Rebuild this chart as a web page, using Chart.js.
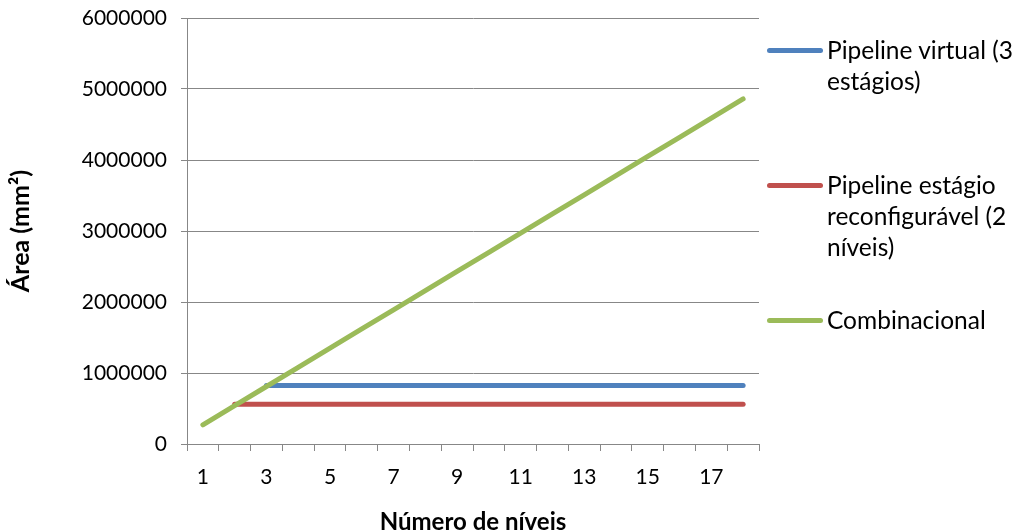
<!DOCTYPE html>
<html>
<head>
<meta charset="utf-8">
<script src="https://cdn.jsdelivr.net/npm/chart.js@4/dist/chart.umd.min.js"></script>
<style>
  html, body { margin: 0; padding: 0; background: #ffffff; }
  #wrap { position: relative; width: 1019px; height: 531px; overflow: hidden; }
  #chart { position: absolute; left: 0; top: 0; }
  .lg-swatch { position: absolute; width: 56px; height: 5px; border-radius: 3px; }
  .lg-text { position: absolute; font-family: Lato, "Open Sans", sans-serif; font-size: 24.5px;
             line-height: 31px; color: #000; white-space: nowrap; }
</style>
</head>
<body>
<div id="wrap">
  <canvas id="chart" width="1019" height="531"></canvas>
  <div id="legend"></div>
</div>
<script>
// Número de níveis (categories on the x axis)
const niveis = ['1','2','3','4','5','6','7','8','9','10','11','12','13','14','15','16','17','18'];

// Área (mm²) per number of levels
const pipelineVirtual = [null, null, 825000, 825000, 825000, 825000, 825000, 825000, 825000,
                         825000, 825000, 825000, 825000, 825000, 825000, 825000, 825000, 825000];
const pipelineEstagio = [null, 560000, 560000, 560000, 560000, 560000, 560000, 560000, 560000,
                         560000, 560000, 560000, 560000, 560000, 560000, 560000, 560000, 560000];
const combinacional   = [270000, 540000, 810000, 1080000, 1350000, 1620000, 1890000, 2160000, 2430000,
                         2700000, 2970000, 3240000, 3510000, 3780000, 4050000, 4320000, 4590000, 4860000];

// Series names, split into the lines shown in the legend
const seriesNames = [
  ['Pipeline virtual (3', 'estágios)'],
  ['Pipeline estágio', 'reconfigurável (2', 'níveis)'],
  ['Combinacional']
];

// Y axis range and step
const yMin = 0, yMax = 6000000, yStep = 1000000;

const colors = ['#4F81BD', '#C0504D', '#9BBB59'];
const gridColor = '#878787';
const seriesData = [pipelineVirtual, pipelineEstagio, combinacional];

const datasets = seriesData.map((values, i) => ({
  label: seriesNames[i].join(' '),
  data: values,
  borderColor: colors[i],
  backgroundColor: colors[i],
  borderWidth: 5,
  borderCapStyle: 'round',
  borderJoinStyle: 'round',
  pointRadius: 0,
  pointHoverRadius: 0,
  tension: 0,
  fill: false,
  order: 2 - i   // the Combinacional line is drawn over the other two
}));

new Chart(document.getElementById('chart'), {
  type: 'line',
  data: { labels: niveis, datasets },
  options: {
    responsive: false,
    animation: false,
    devicePixelRatio: 1,
    layout: { padding: { left: 0, right: 260, top: 18, bottom: 0 } },
    plugins: { legend: { display: false }, tooltip: { enabled: false } },
    scales: {
      x: {
        type: 'category',
        offset: true,
        grid: {
          offset: true,
          drawOnChartArea: false,
          drawTicks: true,
          tickLength: 7,
          color: gridColor,
          lineWidth: 1
        },
        border: { color: gridColor, width: 1 },
        ticks: {
          autoSkip: false,
          maxRotation: 0,
          padding: 14,
          color: '#000',
          font: { family: 'Lato', size: 21 },
          callback: function (value, index) {
            return index % 2 === 0 ? this.getLabelForValue(value) : '';
          }
        },
        title: {
          display: true,
          text: 'Número de níveis',
          color: '#000',
          font: { family: 'Lato', size: 24, weight: 'bold', lineHeight: 0.75 },
          padding: { top: 0, bottom: 0 }
        },
        afterFit: (scale) => { scale.height = 87; }
      },
      y: {
        min: yMin,
        max: yMax,
        grid: {
          color: gridColor,
          lineWidth: 1,
          drawTicks: true,
          tickLength: 6
        },
        border: { color: gridColor, width: 1 },
        ticks: {
          stepSize: yStep,
          padding: 14,
          color: '#000',
          font: { family: 'Lato', size: 21 },
          callback: (v) => String(v)
        },
        title: {
          display: true,
          text: 'Área (mm²)',
          color: '#000',
          font: { family: 'Lato', size: 25, weight: 'bold', lineHeight: 1.2 },
          padding: { top: 6, bottom: 0 }
        },
        afterFit: (scale) => {
          scale.width = 187;
          scale.paddingTop = 0;
          scale.paddingBottom = 0;
        }
      }
    }
  }
});

// Legend on the right, with wrapped series names
const legendX = 767, legendTextX = 827;
const legendRowY = [50.7, 185.3, 320];
const legendLineH = 31;
const legend = document.getElementById('legend');
seriesNames.forEach((lines, i) => {
  const sw = document.createElement('div');
  sw.className = 'lg-swatch';
  sw.style.left = legendX + 'px';
  sw.style.top = (legendRowY[i] - 2.5) + 'px';
  sw.style.background = colors[i];
  legend.appendChild(sw);
  const tx = document.createElement('div');
  tx.className = 'lg-text';
  tx.style.left = legendTextX + 'px';
  tx.style.top = (legendRowY[i] - legendLineH / 2 - 1) + 'px';
  tx.innerHTML = lines.map(s => s.replace(/&/g, '&amp;').replace(/</g, '&lt;')).join('<br>');
  legend.appendChild(tx);
});
</script>
</body>
</html>
